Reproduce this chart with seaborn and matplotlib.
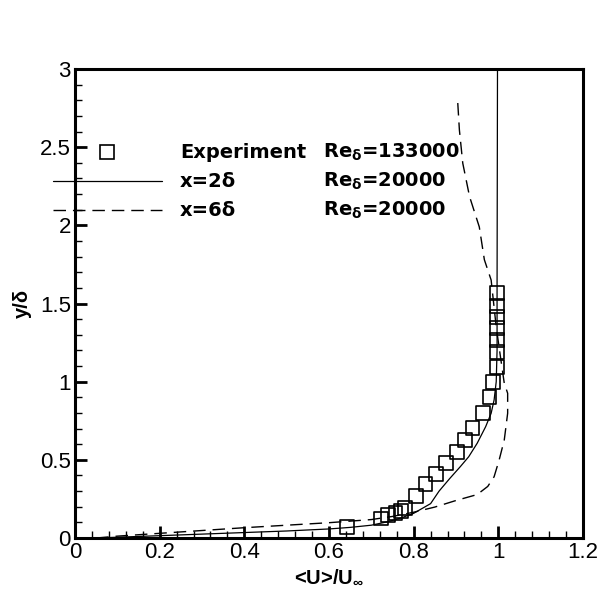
import matplotlib
matplotlib.use("Agg")
import matplotlib.pyplot as plt
from matplotlib.ticker import MultipleLocator, FuncFormatter
import numpy as np
import pandas as pd
import seaborn as sns

# Experimental mean velocity profile (Re_delta = 133000)
exp_u = [0.643, 0.723, 0.740, 0.757, 0.770, 0.780, 0.805, 0.828, 0.853, 0.877,
         0.902, 0.922, 0.939, 0.963, 0.979, 0.988, 0.996, 0.996, 0.996, 0.996,
         0.996, 0.996, 0.997]
exp_y = [0.073, 0.125, 0.145, 0.160, 0.175, 0.192, 0.270, 0.343, 0.409, 0.478,
         0.552, 0.627, 0.702, 0.798, 0.900, 0.996, 1.092, 1.192, 1.267, 1.342,
         1.416, 1.486, 1.566]

# LES profile at x = 2 delta (Re_delta = 20000)
x2_u = [0.05, 0.10, 0.20, 0.30, 0.40, 0.50, 0.60, 0.65, 0.70, 0.74, 0.77, 0.80,
        0.84, 0.86, 0.885, 0.91, 0.93, 0.95, 0.97, 0.983, 0.99, 0.995, 0.997,
        0.997, 0.998]
x2_y = [0.000, 0.005, 0.015, 0.025, 0.035, 0.045, 0.058, 0.068, 0.082, 0.105,
        0.128, 0.158, 0.220, 0.300, 0.380, 0.456, 0.520, 0.606, 0.712, 0.798,
        0.883, 1.000, 1.200, 1.600, 3.000]

# LES profile at x = 6 delta (Re_delta = 20000)
x6_u = [0.05, 0.10, 0.20, 0.30, 0.40, 0.50, 0.60, 0.70, 0.75, 0.80, 0.85, 0.90,
        0.95, 0.975, 0.99, 1.002, 1.014, 1.022, 1.022, 1.014, 1.006, 0.995,
        0.983, 0.967, 0.955, 0.932, 0.916, 0.908, 0.904]
x6_y = [0.000, 0.012, 0.030, 0.048, 0.066, 0.082, 0.098, 0.118, 0.138, 0.165,
        0.198, 0.240, 0.278, 0.330, 0.392, 0.500, 0.627, 0.798, 0.926, 0.990,
        1.140, 1.350, 1.650, 1.780, 1.990, 2.184, 2.397, 2.610, 2.790]

legend_rows = [
    ("Experiment", "Re$_{\\delta}$=133000"),
    ("x=2\u03b4", "Re$_{\\delta}$=20000"),
    ("x=6\u03b4", "Re$_{\\delta}$=20000"),
]

sns.set_style("ticks")
plt.rcParams["font.family"] = ["Liberation Sans", "DejaVu Sans"]
plt.rcParams["mathtext.default"] = "regular"
plt.rcParams["text.color"] = "black"
plt.rcParams["axes.labelcolor"] = "black"

fig = plt.figure(figsize=(5.99, 6.0), dpi=100)
ax = fig.add_axes([0.1252, 0.1033, 0.8481, 0.7817])

df2 = pd.DataFrame({"u": x2_u, "y": x2_y})
df6 = pd.DataFrame({"u": x6_u, "y": x6_y})
dfe = pd.DataFrame({"u": exp_u, "y": exp_y})

sns.lineplot(data=df2, x="u", y="y", sort=False, estimator=None, ax=ax,
             color="black", linewidth=0.9)
sns.lineplot(data=df6, x="u", y="y", sort=False, estimator=None, ax=ax,
             color="black", linewidth=1.0, dashes=False)
ax.lines[-1].set_dashes((9, 5))
sns.scatterplot(data=dfe, x="u", y="y", ax=ax, marker="s", s=100,
                facecolor="none", edgecolor="black", linewidth=1.2, zorder=5)

ax.set_xlim(0, 1.2)
ax.set_ylim(0, 3)

ax.xaxis.set_major_locator(MultipleLocator(0.2))
ax.xaxis.set_minor_locator(MultipleLocator(0.04))
ax.yaxis.set_major_locator(MultipleLocator(0.5))
ax.yaxis.set_minor_locator(MultipleLocator(0.1))
fmt = FuncFormatter(lambda v, p: f"{v:g}")
ax.xaxis.set_major_formatter(fmt)
ax.yaxis.set_major_formatter(fmt)

ax.tick_params(which="both", direction="in", top=False, right=False,
               labelsize=16, color="black", labelcolor="black")
ax.tick_params(which="major", length=8.5, width=2.0, pad=3)
ax.tick_params(which="minor", length=5, width=1.0)

for sp in ax.spines.values():
    sp.set_visible(True)
    sp.set_linewidth(2.2)
    sp.set_color("black")

ax.set_xlabel("<U>/U$_{\\infty}$", fontsize=14.5, fontweight="bold",
              labelpad=3, color="black")
ax.set_ylabel("y/\u03b4", fontsize=14.5, fontweight="bold", labelpad=6,
              color="black")

# Key drawn inside the frame, its line samples reaching past the left spine
row_y = [0.823, 0.761, 0.699]
ax.plot([0.0625], [row_y[0]], transform=ax.transAxes, marker="s",
        markersize=10, markerfacecolor="none", markeredgecolor="black",
        markeredgewidth=1.2, linestyle="none", clip_on=False)
ax.plot([-0.043, 0.171], [row_y[1], row_y[1]], transform=ax.transAxes,
        color="black", linewidth=0.9, clip_on=False)
ax.plot([-0.043, 0.171], [row_y[2], row_y[2]], transform=ax.transAxes,
        color="black", linewidth=1.0, dashes=(9, 5), clip_on=False)
key_font = ["DejaVu Sans"]
for (lab, re), yy in zip(legend_rows, row_y):
    ax.text(0.207, yy, lab, transform=ax.transAxes, fontsize=14,
            family=key_font, fontweight="bold", va="center", ha="left",
            color="black")
    ax.text(0.488, yy, re, transform=ax.transAxes, fontsize=14,
            family=key_font, fontweight="bold", va="center", ha="left",
            color="black")

fig.savefig("out.png", dpi=100)
